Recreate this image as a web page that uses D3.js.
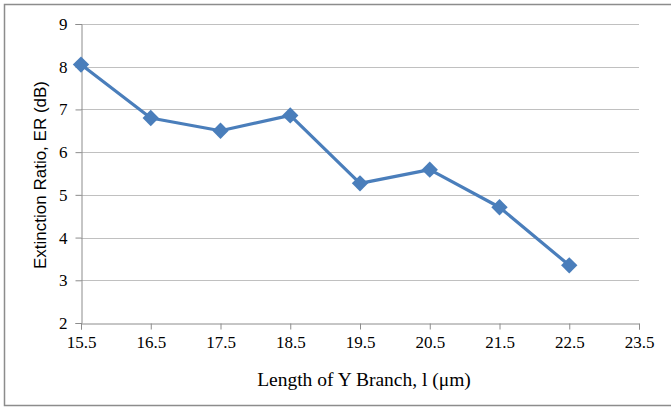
<!DOCTYPE html>
<html>
<head>
<meta charset="utf-8">
<script src="https://cdn.jsdelivr.net/npm/d3@7"></script>
<style>
  body { margin: 0; background: #fff; }
  svg { display: block; }
</style>
</head>
<body>
<div id="chart"></div>
<script>
// chart values
const lengths = [15.5, 16.5, 17.5, 18.5, 19.5, 20.5, 21.5, 22.5];
const extinctionRatio = [8.05, 6.8, 6.5, 6.86, 5.27, 5.59, 4.71, 3.35];
const xTicks = [15.5, 16.5, 17.5, 18.5, 19.5, 20.5, 21.5, 22.5, 23.5];
const yTicks = [2, 3, 4, 5, 6, 7, 8, 9];

const serifFont = "Liberation Serif, Times New Roman, Times, serif";
const sansFont = "Liberation Sans, Arial, sans-serif";

function drawChart() {
    const width = 671, height = 408;
    const margin = { top: 24, right: 32, bottom: 85, left: 81 };

    const svg = d3.select("#chart")
        .append("svg")
        .attr("width", width)
        .attr("height", height)
        .attr("font-family", serifFont);

    // outer frame
    svg.append("path")
        .attr("d", `M${width},4.5 H4.5 V405.5 H${width}`)
        .attr("fill", "none")
        .attr("stroke", "#8c8c8c")
        .attr("stroke-width", 1.5);

    const x = d3.scaleLinear()
        .domain([15.5, 23.5])
        .range([margin.left, width - margin.right]);
    const y = d3.scaleLinear()
        .domain([2, 9])
        .range([height - margin.bottom, margin.top]);

    // gridlines
    svg.append("g")
        .selectAll("line")
        .data(yTicks.filter(d => d > 2))
        .enter()
        .append("line")
        .attr("x1", x(15.5))
        .attr("x2", x(23.5))
        .attr("y1", d => Math.round(y(d)) + 0.5)
        .attr("y2", d => Math.round(y(d)) + 0.5)
        .attr("stroke", "#c0c0c0")
        .attr("stroke-width", 1.2);

    // y axis
    const yAxis = svg.append("g")
        .attr("transform", `translate(${margin.left + 0.5},0)`)
        .call(d3.axisLeft(y).tickValues(yTicks).tickSize(6).tickPadding(8).tickFormat(d3.format("d")));
    // x axis
    const xAxis = svg.append("g")
        .attr("transform", `translate(0,${Math.round(y(2)) + 0.5})`)
        .call(d3.axisBottom(x).tickValues(xTicks).tickSize(6).tickPadding(6).tickFormat(d3.format(".1f")));

    [yAxis, xAxis].forEach(g => {
        g.attr("font-family", serifFont).attr("font-size", 17);
        g.select(".domain").attr("stroke", "#8c8c8c");
        g.selectAll(".tick line").attr("stroke", "#8c8c8c");
        g.selectAll(".tick text")
            .attr("font-family", serifFont)
            .attr("fill", "#000")
            .attr("font-size", 17);
    });

    // series line
    const line = d3.line()
        .x((d, i) => x(lengths[i]))
        .y(d => y(d));

    svg.append("path")
        .datum(extinctionRatio)
        .attr("d", line)
        .attr("fill", "none")
        .attr("stroke", "#4a7ebb")
        .attr("stroke-width", 3.2)
        .attr("stroke-linejoin", "round");

    // diamond markers
    const diamond = d3.symbol().type(d3.symbolDiamond2).size(170);
    svg.append("g")
        .selectAll("path")
        .data(extinctionRatio)
        .enter()
        .append("path")
        .attr("d", diamond)
        .attr("transform", (d, i) => `translate(${x(lengths[i])},${y(d)})`)
        .attr("fill", "#4a7ebb");

    // axis titles
    svg.append("text")
        .attr("font-family", serifFont)
        .attr("x", 364)
        .attr("y", 386)
        .attr("text-anchor", "middle")
        .attr("font-size", 19.5)
        .text("Length of Y Branch, l (μm)");

    svg.append("text")
        .attr("font-family", sansFont)
        .attr("transform", "translate(46,175) rotate(-90)")
        .attr("text-anchor", "middle")
        .attr("font-size", 17)
        .text("Extinction Ratio, ER (dB)");
}

document.addEventListener('DOMContentLoaded', function() {
    drawChart();
});
</script>
</body>
</html>
